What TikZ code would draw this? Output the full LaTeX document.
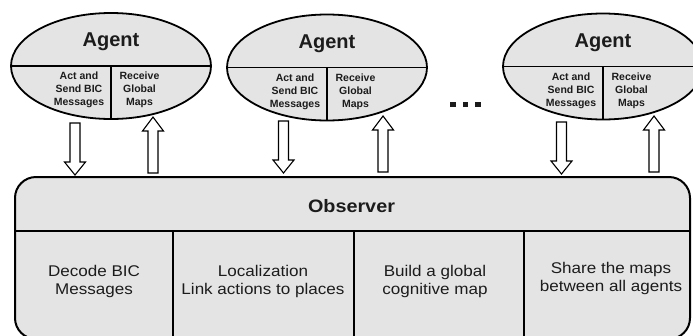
\documentclass[tikz,border=0pt]{standalone}
\usepackage{fontspec}
\setmainfont{Liberation Sans}
\newfontfamily\widesans[FakeStretch=1.1]{Liberation Sans}
\usetikzlibrary{shapes.geometric,calc}

\definecolor{panel}{HTML}{E4E4E4}
\definecolor{ink}{HTML}{1C1C1C}

\tikzset{
  agent/.style={ellipse, draw=black, line width=1.8pt, fill=panel,
    minimum width=200pt, minimum height=106pt, inner sep=0pt},
  divider/.style={draw=black, line width=1.8pt},
  agenttitle/.style={anchor=base, text=ink, font=\fontsize{20}{24}\selectfont\bfseries},
  agentpart/.style={align=center, text=ink, inner sep=0pt,
    font=\fontsize{10.5}{13}\selectfont\bfseries},
  observer/.style={draw=black, line width=2pt, fill=panel, rounded corners=21pt,
    minimum width=675pt, minimum height=162pt, inner sep=0pt},
  obstitle/.style={anchor=base, text=ink, font=\widesans\fontsize{18}{21}\selectfont\bfseries},
  celltext/.style={align=center, text=ink, inner sep=0pt,
    font=\widesans\fontsize{15.5}{18}\selectfont},
  blockarrow/.style={draw=black, line width=1.1pt, fill=white},
  downarrow/.pic={\path[blockarrow] (-5,0) -- (-5,39) -- (-10.5,39) -- (0,52)
      -- (10.5,39) -- (5,39) -- (5,0) -- cycle;},
  uparrow/.pic={\path[blockarrow] (-5,56) -- (-5,14) -- (-10.5,14) -- (0,0)
      -- (10.5,14) -- (5,14) -- (5,56) -- cycle;},
}

\begin{document}
\begin{tikzpicture}[x=1pt,y=-1pt]
\useasboundingbox (0,0) rectangle (693,335);
\clip (0,0) rectangle (693,335);

% observer panel with its header and four task cells
\node[observer] (obs) at (352.5,258) {};
\coordinate (hl) at (15,231);
\coordinate (hr) at (690,231);
\draw[divider, line width=2pt] (hl) -- (hr);
\foreach \x/\n in {173/c1,354/c2,524/c3}{
  \coordinate (\n top) at (\x,231);
  \draw[divider, line width=2pt] (\n top) -- (\x,340);
}
\node[obstitle] (obsname) at (351.5,212) {Observer};
\node[celltext] (t1) at (94,281.5) {Decode BIC\\Messages};
\node[celltext] (t2) at (263,281.5) {Localization\\Link actions to places};
\node[celltext] (t3) at (435,281.5) {Build a global\\cognitive map};
\node[celltext] (t4) at (611,278.5) {Share the maps\\between all agents};

% the agents
\foreach \n/\x/\y in {a1/111/66, a2/327/67.5, a3/603/66.5}{
  \node[agent] (\n) at (\x,\y) {};
  \draw[divider] (\n.west) -- (\n.east);
  \draw[divider] (\n.center) -- (\n.south);
  \node[agenttitle] (\n name) at ($(\n.center)+(0,-19.5)$) {Agent};
  \node[agentpart] (\n act) at ($(\n.center)+(-32,24)$) {Act and\\Send BIC\\Messages};
  \node[agentpart] (\n recv) at ($(\n.center)+(28.5,24)$) {Receive\\Global\\Maps};
}

% messages going down, maps coming back up
\pic at (75,123) {downarrow};
\pic at (153,117) {uparrow};
\pic at (283.5,121) {downarrow};
\pic at (383,116) {uparrow};
\pic at (561.5,122) {downarrow};
\pic at (654,116) {uparrow};

% more agents
\foreach \x in {453,465.5,478}
  \fill[ink] (\x-2.6,101.5) rectangle (\x+2.6,106.5);
\end{tikzpicture}
\end{document}
